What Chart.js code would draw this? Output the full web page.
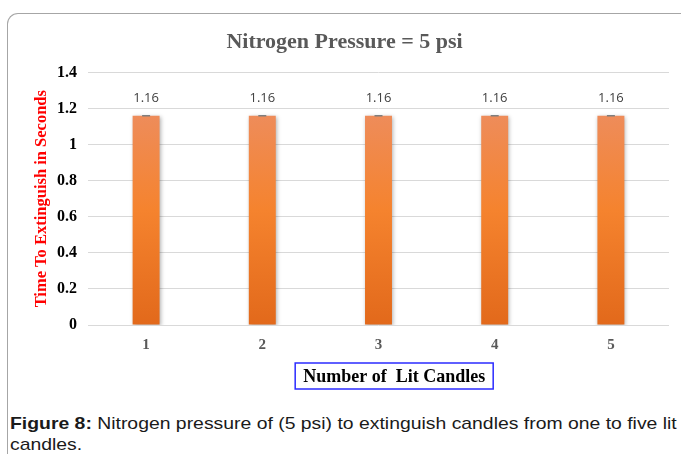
<!DOCTYPE html>
<html>
<head>
<meta charset="utf-8">
<script src="https://cdn.jsdelivr.net/npm/chart.js@4"></script>
<style>
body{margin:0;background:#fff;overflow:hidden;}
#frame{position:absolute;left:7px;top:13px;width:720px;height:480px;border:1.5px solid #a6a6a6;border-right:none;border-bottom:none;border-top-left-radius:11px;}
#wrap{position:absolute;left:0;top:0;width:681px;height:400px;}
#caption{position:absolute;left:10px;top:413px;width:600px;font:17px "Liberation Sans",Arial,sans-serif;line-height:21px;color:#1a1a1a;transform:scaleX(1.14);transform-origin:0 0;}
</style>
</head>
<body>
<div id="frame"></div>
<div id="wrap"><canvas id="chart"></canvas></div>
<div id="caption"><b>Figure 8:</b> Nitrogen pressure of (5 psi) to extinguish candles from one to five lit candles.</div>
<script>
const candles=["1","2","3","4","5"];
const times=[1.16,1.16,1.16,1.16,1.16];
const errors=[0,0,0,0,0];
const yTickLabels=["0","0.2","0.4","0.6","0.8","1","1.2","1.4"];

const serif='"Liberation Serif","Times New Roman",serif';

const barExtras={
    id:"barExtras",
    afterDatasetsDraw(chart){
        const ctx=chart.ctx;
        const meta=chart.getDatasetMeta(0);
        const y=chart.scales.y;
        ctx.save();
        meta.data.forEach((bar,i)=>{
            const top=y.getPixelForValue(times[i]+errors[i]);
            const bot=y.getPixelForValue(times[i]-errors[i]);
            ctx.strokeStyle="#7f7f7f";
            ctx.lineWidth=1.5;
            ctx.beginPath();
            ctx.moveTo(bar.x-4,top);ctx.lineTo(bar.x+4,top);
            ctx.moveTo(bar.x,top);ctx.lineTo(bar.x,bot);
            ctx.moveTo(bar.x-4,bot);ctx.lineTo(bar.x+4,bot);
            ctx.stroke();
            ctx.fillStyle="#404040";
            ctx.font='13px "Open Sans",sans-serif';
            ctx.textAlign="center";
            ctx.textBaseline="middle";
            ctx.fillText(times[i].toFixed(2),bar.x,bar.y-17);
        });
        // x axis title in a blue box
        const a=chart.chartArea;
        const cx=a.left+(a.right-a.left)*0.527;
        const cy=376;
        ctx.font='bold 18px '+serif;
        ctx.fillStyle="#000";
        ctx.textAlign="center";
        ctx.textBaseline="middle";
        ctx.fillText("Number of  Lit Candles",cx,cy+1);
        ctx.strokeStyle="#2b2bff";
        ctx.lineWidth=1.5;
        ctx.strokeRect(cx-99,cy-13,198,26);
        ctx.restore();
    }
};

const barShadow={
    id:"barShadow",
    beforeDatasetsDraw(chart){
        const ctx=chart.ctx;
        ctx.save();
        ctx.shadowColor="rgba(0,0,0,0.3)";
        ctx.shadowBlur=4;
        ctx.shadowOffsetX=1;
        ctx.shadowOffsetY=1;
    },
    afterDatasetsDraw(chart){
        chart.ctx.restore();
    }
};

function barFill(context){
    const chart=context.chart;
    const area=chart.chartArea;
    if(!area) return "#F47F2A";
    const y=chart.scales.y;
    const g=chart.ctx.createLinearGradient(0,y.getPixelForValue(times[0]),0,y.getPixelForValue(0));
    g.addColorStop(0,"#EE8C5A");
    g.addColorStop(0.45,"#F5832E");
    g.addColorStop(1,"#E2691B");
    return g;
}

new Chart(document.getElementById("chart"),{
    type:"bar",
    data:{
        labels:candles,
        datasets:[{
            data:times,
            backgroundColor:barFill,
            borderWidth:0,
            categoryPercentage:1,
            barPercentage:0.232
        }]
    },
    plugins:[barShadow,barExtras],
    options:{
        responsive:true,
        maintainAspectRatio:false,
        animation:false,
        layout:{padding:{left:20,right:12,top:0,bottom:0}},
        plugins:{
            legend:{display:false},
            tooltip:{enabled:false},
            title:{
                display:true,
                text:"Nitrogen Pressure = 5 psi",
                color:"#595959",
                font:{family:serif,size:22,weight:"bold"},
                padding:{top:29,bottom:17}
            }
        },
        scales:{
            x:{
                grid:{display:false,drawTicks:false},
                border:{display:false},
                ticks:{color:"#595959",font:{family:serif,size:15,weight:"bold"},padding:11},
                afterFit(s){s.height=75;}
            },
            y:{
                min:0,max:1.4,
                ticks:{
                    stepSize:0.2,
                    color:"#000",
                    font:{family:serif,size:16,weight:"bold"},
                    padding:11,
                    callback:(v,i)=>yTickLabels[i]
                },
                grid:{color:"#d9d9d9",drawTicks:false,lineWidth:1},
                border:{display:false},
                title:{
                    display:true,
                    text:"Time To Extinguish in Seconds",
                    color:"#ff0000",
                    font:{family:serif,size:16.5,weight:"bold"},
                    padding:{top:12,bottom:4}
                },
                afterFit(s){s.width=68;}
            }
        }
    }
});
</script>
</body>
</html>
